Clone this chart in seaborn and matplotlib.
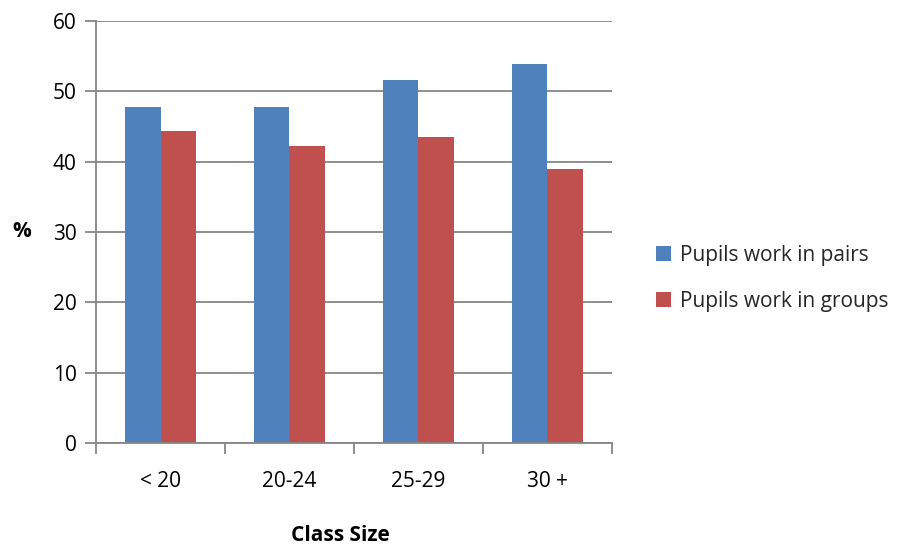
import pandas as pd
import matplotlib.pyplot as plt
import seaborn as sns

# Datos
tamanos = ["< 20", "20-24", "25-29", "30 +"]
parejas = [47.7, 47.8, 51.6, 53.9]
grupos = [44.3, 42.2, 43.5, 38.9]
series = ["Pupils work in pairs", "Pupils work in groups"]

df = pd.DataFrame({
    "Class Size": tamanos * 2,
    "valor": parejas + grupos,
    "serie": [series[0]] * 4 + [series[1]] * 4,
})

sns.set_theme(style="white")
plt.rcParams["font.family"] = ["Open Sans", "DejaVu Sans"]

fig = plt.figure(figsize=(9.1, 5.5), dpi=100)
ax = fig.add_axes([0.1055, 0.1945, 0.567, 0.7675])

sns.barplot(data=df, x="Class Size", y="valor", hue="serie", order=tamanos,
            hue_order=series, palette=["#4F81BD", "#C0504D"], width=0.55,
            saturation=1, errorbar=None, linewidth=0, ax=ax)

ax.set_ylim(0, 60)
ax.set_xlim(-0.5, 3.5)
ax.set_yticks(range(0, 61, 10))
ax.yaxis.grid(True, color="#868686", linewidth=1.3)
ax.set_axisbelow(True)

for s in ["top", "right"]:
    ax.spines[s].set_visible(False)
for s in ["left", "bottom"]:
    ax.spines[s].set_color("#868686")
    ax.spines[s].set_linewidth(1.3)

# marcas de eje x en los limites de categoria
ax.set_xticks([-0.5, 0.5, 1.5, 2.5, 3.5], minor=True)
ax.tick_params(axis="x", which="minor", length=8, color="#868686", width=1.3, direction="out", bottom=True)
ax.tick_params(axis="x", which="major", length=0, labelsize=15, pad=20, labelcolor="black")
ax.tick_params(axis="y", which="major", length=8, color="#868686", width=1.3, direction="out", left=True,
               labelsize=15, pad=6, labelcolor="black")

ax.set_xlabel("Class Size", fontsize=15, fontweight="bold", color="black", va="center")
ax.xaxis.set_label_coords(0.473, -0.218)
ax.set_ylabel("%", fontsize=15, fontweight="bold", rotation=0, color="black", va="center", ha="center")
ax.yaxis.set_label_coords(-0.143, 0.5)

handles, labels = ax.get_legend_handles_labels()
ax.legend_.remove()
fig.legend(handles, labels, loc="center left", bbox_to_anchor=(0.700, 0.494),
           frameon=False, fontsize=15, handlelength=0.75, handleheight=0.75,
           handletextpad=0.4, labelspacing=1.2)

fig.savefig("out.png", dpi=100)
